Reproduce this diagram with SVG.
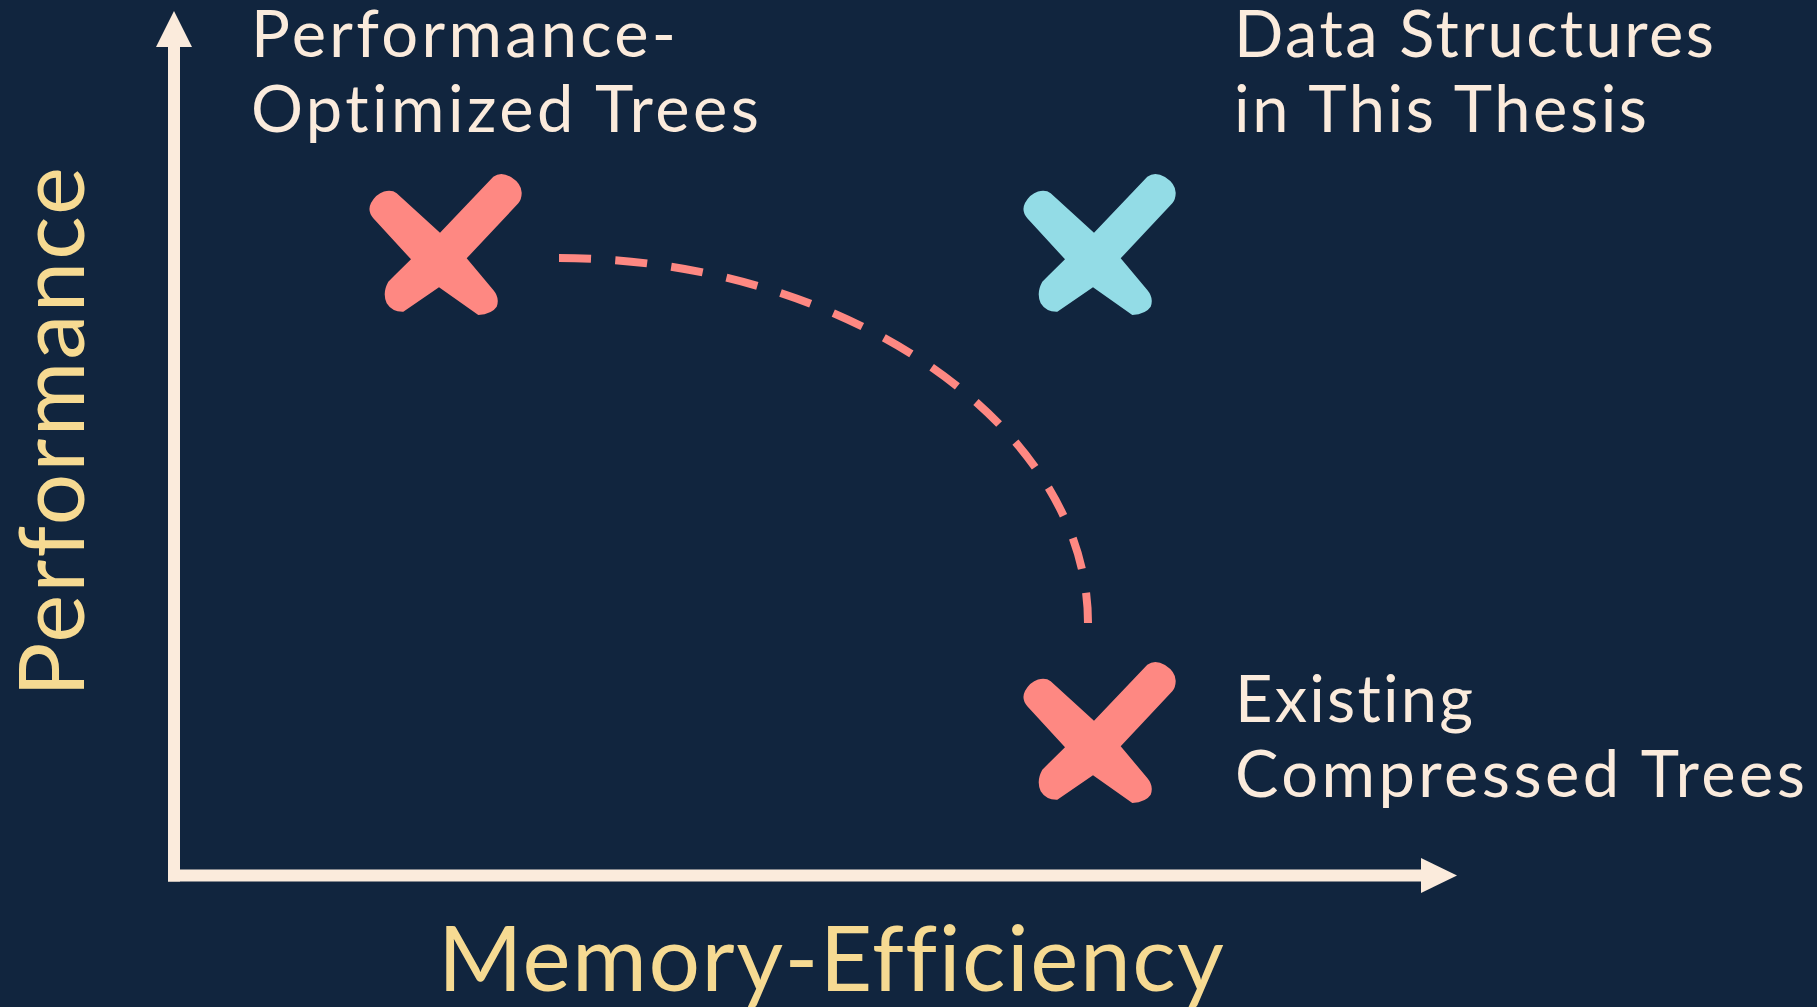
<svg xmlns="http://www.w3.org/2000/svg" xmlns:xlink="http://www.w3.org/1999/xlink" width="1817" height="1007" viewBox="0 0 1817 1007">
<style>
.lbl{font-family:Lato,"Open Sans","Liberation Sans",sans-serif;font-size:65px;fill:#FBEBDC;font-variant-ligatures:none;font-feature-settings:"liga" 0,"clig" 0}
.ax{font-family:Lato,"Open Sans","Liberation Sans",sans-serif;font-size:91px;fill:#F6DA92;font-variant-ligatures:none;font-feature-settings:"liga" 0,"clig" 0}
.axis{fill:#FBEBDC}
.red{fill:#FE8882}
.blue{fill:#93DCE6}
.trade{fill:none;stroke:#FE8882;stroke-width:8;stroke-dasharray:32 24.3}
</style>
<defs>
<path id="xmark" d="M -28,0.3 L -65.7,-40.7 Q -72,-48 -68,-56 Q -63,-65 -55,-67.5 Q -47,-69.5 -42.3,-65.7 L 1,-26.3 L 54.3,-82.3 Q 62,-88 72,-82 Q 83,-75 82.7,-65.7 Q 82.5,-59 79.3,-55.7 L 27.7,-0.7 L 54.3,31 Q 61,39 57.7,47.7 Q 53,55 39.3,56 L 0,28.3 L -35.7,52.7 Q -47,53 -52.3,44.3 Q -57,34 -50.7,22.7 L -44,16 Z"/>
</defs>
<rect width="1817" height="1007" fill="#11253E"/>
<g id="axes">
<rect class="axis" x="168" y="44" width="12" height="837.5"/>
<polygon class="axis" points="174,11 192,47 156,47"/>
<rect class="axis" x="168" y="869.5" width="1256" height="12"/>
<polygon class="axis" points="1457,875.5 1421,858 1421,893"/>
</g>
<g id="connectors">
<path class="trade" d="M 559,258 C 845,258 1088,426 1088,623"/>
</g>
<g id="node-perf-trees">
<use xlink:href="#xmark" href="#xmark" class="red" transform="translate(439,259)"/>
<text class="lbl" x="251" y="57" textLength="425">Performance-</text>
<text class="lbl" x="251" y="132" textLength="508">Optimized Trees</text>
</g>
<g id="node-thesis">
<use xlink:href="#xmark" href="#xmark" class="blue" transform="translate(1093,259)"/>
<text class="lbl" x="1234" y="57" textLength="480">Data Structures</text>
<text class="lbl" x="1234" y="132" textLength="413">in This Thesis</text>
</g>
<g id="node-compressed">
<use xlink:href="#xmark" href="#xmark" class="red" transform="translate(1093,747)"/>
<text class="lbl" x="1235" y="722" textLength="238">Existing</text>
<text class="lbl" x="1235" y="797" textLength="570">Compressed Trees</text>
</g>
<g id="axis-labels">
<text class="ax" x="438" y="991" textLength="786">Memory-Efficiency</text>
<text class="ax" transform="translate(84,697) rotate(-90)" x="0" y="0" textLength="530">Performance</text>
</g>
</svg>
